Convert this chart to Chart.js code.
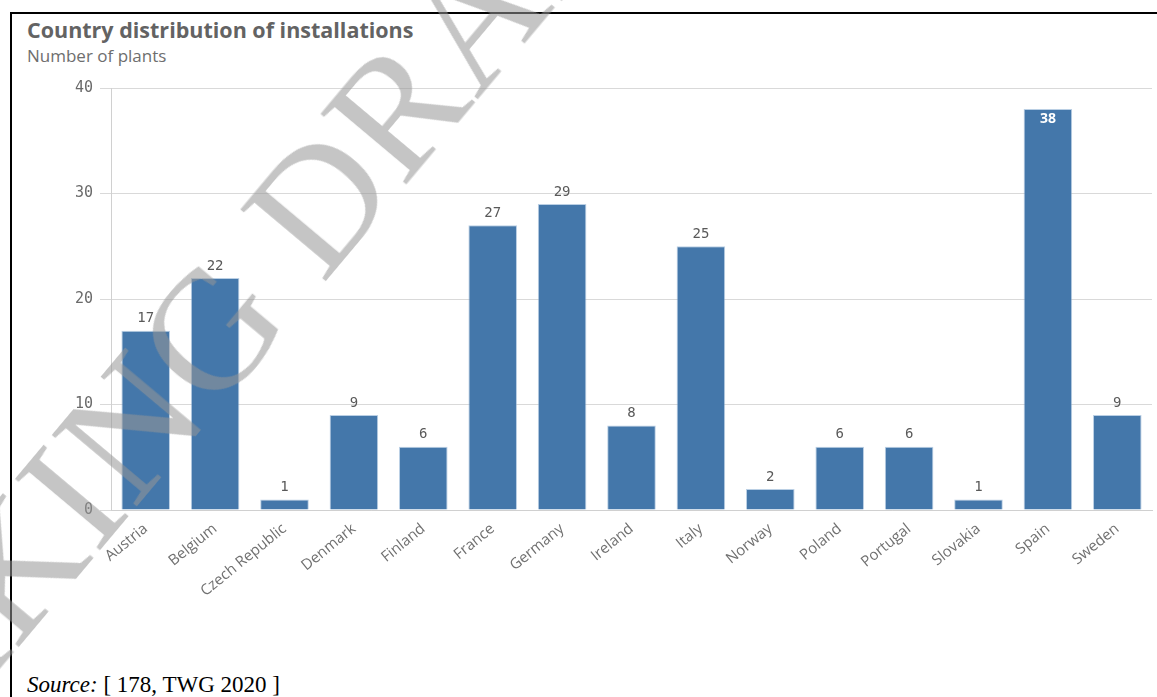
<!DOCTYPE html>
<html>
<head>
<meta charset="utf-8">
<script src="https://cdn.jsdelivr.net/npm/chart.js@4/dist/chart.umd.min.js"></script>
<style>
  html, body { margin: 0; padding: 0; background: #fff; }
  body { width: 1157px; height: 697px; position: relative; overflow: hidden; }
  .frame { position: absolute; left: 10px; top: 12px; right: -5px; bottom: -5px;
           border-left: 2px solid #000; border-top: 2px solid #000; }
  .title { position: absolute; left: 27px; top: 15px; font: bold 21.5px "Open Sans", sans-serif;
           color: #636363; }
  .subtitle { position: absolute; left: 27px; top: 44px; font: 17px "Open Sans", sans-serif; color: #6e6e6e; }
  .box { position: absolute; left: 12px; top: 72px; width: 1145px; height: 543px; }
  .source { position: absolute; left: 27px; top: 672px; font: 23px "Liberation Serif", serif; color: #000; }
  .wm { position: absolute; left: -361px; top: 860px; transform-origin: 0 0; transform: rotate(-50deg);
        font: 170px "Liberation Serif", serif; color: rgba(150,150,150,0.55); white-space: nowrap;
        pointer-events: none; letter-spacing: 2px; }
</style>
</head>
<body>
<div class="frame"></div>
<div class="title">Country distribution of installations</div>
<div class="subtitle">Number of plants</div>
<div class="box"><canvas id="plantsChart"></canvas></div>
<div class="source"><i>Source:</i> [ 178, TWG 2020 ]</div>
<div class="wm">WORKING DRAFT</div>
<script>
// 数据
var countries = ['Austria', 'Belgium', 'Czech Republic', 'Denmark', 'Finland', 'France', 'Germany',
                 'Ireland', 'Italy', 'Norway', 'Poland', 'Portugal', 'Slovakia', 'Spain', 'Sweden'];
var plants = [17, 22, 1, 9, 6, 27, 29, 8, 25, 2, 6, 6, 1, 38, 9];
var yTicks = [0, 10, 20, 30, 40];

// 柱顶数值标签（太高的柱子写在柱内）
var valueLabels = {
    id: 'valueLabels',
    afterDatasetsDraw: function (chart) {
        var ctx = chart.ctx;
        var meta = chart.getDatasetMeta(0);
        ctx.save();
        ctx.textAlign = 'center';
        meta.data.forEach(function (bar, i) {
            var v = plants[i];
            if (bar.y - 22 < chart.chartArea.top) {
                ctx.fillStyle = '#ffffff';
                ctx.font = 'bold 14px "Open Sans", sans-serif';
                ctx.textBaseline = 'top';
                ctx.fillText(v, bar.x, bar.y + 3);
            } else {
                ctx.fillStyle = '#595959';
                ctx.font = '14px "DejaVu Sans Mono", monospace';
                ctx.textBaseline = 'bottom';
                ctx.fillText(v, bar.x, bar.y - 5);
            }
        });
        ctx.restore();
    }
};

var ctx = document.getElementById('plantsChart').getContext('2d');
new Chart(ctx, {
    type: 'bar',
    data: {
        labels: countries,
        datasets: [{
            data: plants,
            backgroundColor: '#4477aa',
            borderColor: 'rgba(140,175,210,0.6)',
            borderWidth: 1,
            barPercentage: 0.7,
            categoryPercentage: 1
        }]
    },
    options: {
        responsive: true,
        maintainAspectRatio: false,
        animation: false,
        layout: { padding: { top: 9, right: 5, left: 0, bottom: 0 } },
        plugins: { legend: { display: false }, tooltip: { enabled: false } },
        scales: {
            x: {
                grid: { display: false },
                border: { color: '#d0d0d0', width: 1 },
                ticks: {
                    color: '#707070',
                    font: { size: 15, family: '"Open Sans", sans-serif' },
                    minRotation: 39,
                    maxRotation: 39,
                    padding: 2
                },
                afterFit: function (scale) { scale.height = 105; }
            },
            y: {
                min: 0,
                max: 40,
                afterBuildTicks: function (scale) {
                    scale.ticks = yTicks.map(function (v) { return { value: v }; });
                },
                grid: { color: '#d9d9d9', tickLength: 11, drawTicks: true },
                border: { color: '#d0d0d0', width: 1 },
                ticks: {
                    color: '#6a6a6a',
                    font: { size: 15, family: '"DejaVu Sans Mono", monospace' },
                    padding: 7
                },
                afterFit: function (scale) { scale.width = 99; }
            }
        }
    },
    plugins: [valueLabels]
});
</script>
</body>
</html>
